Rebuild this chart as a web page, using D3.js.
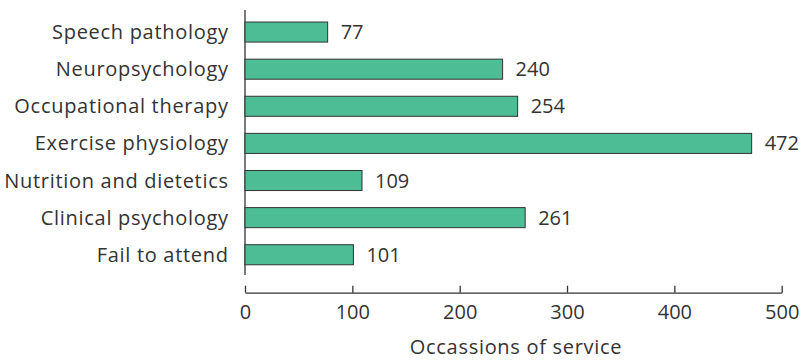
<!DOCTYPE html>
<html><head><meta charset="utf-8">
<script src="https://cdn.jsdelivr.net/npm/d3@7"></script>
<style>body{margin:0;background:#fff}svg{display:block}text{font-family:"Open Sans",sans-serif;fill:#333}</style>
</head><body>
<svg id="c" width="803" height="362"></svg>
<script>
const categories = ["Speech pathology","Neuropsychology","Occupational therapy","Exercise physiology","Nutrition and dietetics","Clinical psychology","Fail to attend"];
const values = [77,240,254,472,109,261,101];
const xTicks = [0,100,200,300,400,500];
const xTitle = "Occassions of service";

const svg = d3.select("#c");
const x = d3.scaleLinear().domain([0,500]).range([245,781.7]);
const y = d3.scaleBand().domain(categories).range([13.5,273.3]).paddingInner(0.46).paddingOuter(0.23);
const fs = 20;

svg.append("line").attr("x1",245).attr("x2",245).attr("y1",10).attr("y2",275).attr("stroke","#333").attr("stroke-width",1.3);

svg.selectAll("rect.bar").data(categories).join("rect").attr("class","bar")
  .attr("x",x(0)).attr("y",d=>y(d)).attr("width",(d,i)=>x(values[i])-x(0)).attr("height",y.bandwidth())
  .attr("fill","#4dbd96").attr("stroke","#333").attr("stroke-width",1);

svg.selectAll("text.cat").data(categories).join("text").attr("class","cat")
  .attr("x",228.7).attr("y",d=>y(d)+y.bandwidth()/2).attr("dy","0.35em").attr("text-anchor","end")
  .attr("font-size",fs).attr("letter-spacing","0.7px").text(d=>d);

svg.selectAll("text.val").data(categories).join("text").attr("class","val")
  .attr("x",(d,i)=>x(values[i])+13).attr("y",d=>y(d)+y.bandwidth()/2).attr("dy","0.35em")
  .attr("font-size",fs).text((d,i)=>values[i]);

const ax = svg.append("g").attr("transform","translate(0,292.7)")
  .call(d3.axisBottom(x).tickValues(xTicks).tickSizeInner(-7).tickSizeOuter(0).tickPadding(12));
ax.select(".domain").attr("stroke","#333").attr("stroke-width",1.3);
ax.selectAll(".tick line").attr("stroke","#333").attr("stroke-width",1.3);
ax.selectAll(".tick text").attr("font-size",fs).attr("font-family","Open Sans, sans-serif").attr("fill","#333");

svg.append("text").attr("x",516).attr("y",354).attr("text-anchor","middle").attr("font-size",fs).attr("letter-spacing","0.7px").text(xTitle);
</script>
</body></html>
